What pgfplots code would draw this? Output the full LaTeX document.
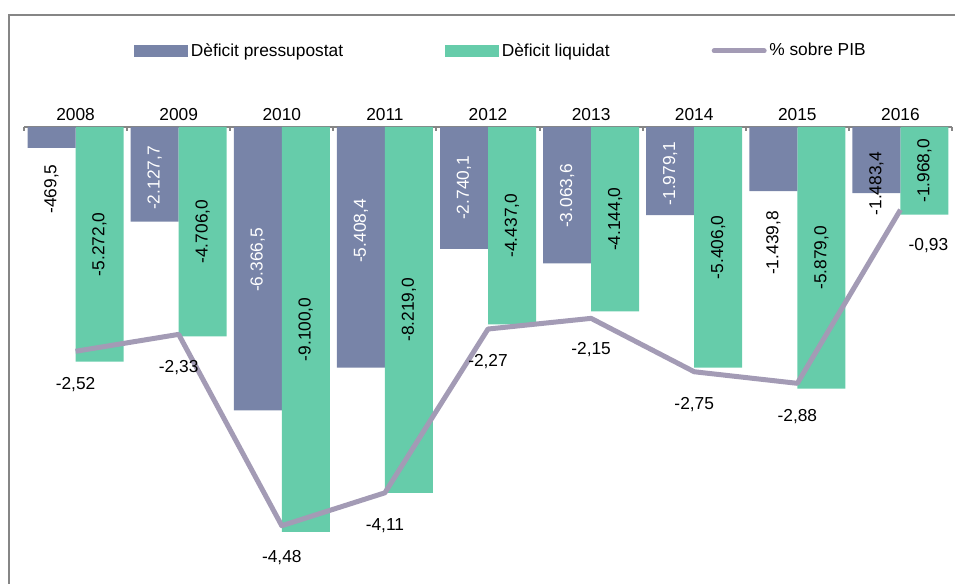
\documentclass[border=0pt]{standalone}
\usepackage{pgfplots}
\pgfplotsset{compat=1.18}
\usepackage{pgfplotstable}
\usepackage{fontspec}
\setmainfont{Liberation Sans}

\definecolor{pres}{HTML}{7884A8}
\definecolor{liq}{HTML}{66CCAA}
\definecolor{pib}{HTML}{A39BB5}
\definecolor{marc}{HTML}{868686}

% x, deficit liquidat, % sobre PIB, dx/dy = desplacament etiqueta PIB (pt)
\pgfplotstableread{
x liq pib dx dy
0 -5272 -2.52 0 -24.75
1 -4706 -2.33 0 -24.75
2 -9100 -4.48 0 -23.5
3 -8219 -4.11 0 -24.75
4 -4437 -2.27 0 -24.75
5 -4144 -2.15 0 -23.5
6 -5406 -2.75 0 -24.75
7 -5879 -2.88 0 -24.75
8 -1968 -0.93 21 -27
}\dades

% deficit pressupostat, bl = centre de l'etiqueta
\pgfplotstableread{
x pres bl
1 -2127.7 -1146
2 -6366.5 -2989
3 -5408.4 -2337
4 -2740.1 -1371
5 -3063.6 -1551
6 -1979.1 -1045
}\presdins
\pgfplotstableread{
x pres bl
0 -469.5 -1393
7 -1439.8 -2607
8 -1483.4 -1270
}\presfora

\begin{document}
\fontsize{13}{15}\selectfont
\begin{tikzpicture}
\useasboundingbox (-18pt,-8.25pt) rectangle (698.25pt,429pt);
\draw[marc, line width=1.5pt] (-11.25pt,-9pt) -- (-11.25pt,417.75pt) -- (699pt,417.75pt);
\begin{axis}[
    width=696pt, height=333.75pt, scale only axis,
    xmin=-0.5, xmax=8.5, ymin=-10000, ymax=0,
    clip=false,
    axis x line*=top, axis y line=none,
    x axis line style={marc, line width=1.5pt},
    xtick={-0.5,0.5,1.5,2.5,3.5,4.5,5.5,6.5,7.5,8.5},
    x tick label as interval,
    xticklabels={2008,2009,2010,2011,2012,2013,2014,2015,2016},
    ytick=\empty,
    tick align=inside,
    major tick length=3pt,
    tick style={marc, line width=1.5pt},
    legend columns=3,
    legend style={at={(0.1185,1.1708)}, anchor=west, draw=none, fill=none,
      inner sep=0pt, /tikz/every even column/.append style={column sep=74.5pt}},
    ]
\addplot[ybar, bar width=36pt, bar shift=-18pt, fill=pres, draw=none,
    legend image code/.code={\fill[pres] (0pt,-4.5pt) rectangle (40.5pt,4.5pt);},
    point meta=rawy,
    nodes near coords={\pgfmathprintnumber[fixed,fixed zerofill,precision=1,use comma,assume math mode=true]{\pgfplotspointmeta}},
    visualization depends on={\thisrow{bl}-\thisrow{pres} \as \dl},
    every node near coord/.append style={xshift=-18pt, yshift={0.033375*\dl}, rotate=90, anchor=center, text=white, inner sep=0pt},
    ] table[x=x, y=pres] {\presdins};
\addplot[ybar, bar width=36pt, bar shift=18pt, fill=liq, draw=none,
    legend image code/.code={\fill[liq] (0pt,-4.5pt) rectangle (40.5pt,4.5pt);},
    point meta=rawy,
    nodes near coords={\pgfmathprintnumber[fixed,fixed zerofill,precision=1,use comma,assume math mode=true]{\pgfplotspointmeta}},
    visualization depends on={\thisrow{liq} \as \gl},
    every node near coord/.append style={xshift=18pt, yshift={-0.0166875*\gl}, rotate=90, anchor=center, text=black, inner sep=0pt},
    ] table[x=x, y=liq] {\dades};
\addlegendimage{legend image code/.code={\draw[pib, line width=3.75pt, line cap=round] (1.875pt,0pt) -- (39.375pt,0pt);}}
\legend{Dèficit pressupostat, Dèficit liquidat, \% sobre PIB}
\addplot[ybar, bar width=36pt, bar shift=-18pt, fill=pres, draw=none, forget plot,
    point meta=rawy,
    nodes near coords={\pgfmathprintnumber[fixed,fixed zerofill,precision=1,use comma,assume math mode=true]{\pgfplotspointmeta}},
    visualization depends on={\thisrow{bl}-\thisrow{pres} \as \dl},
    every node near coord/.append style={xshift=-18pt, yshift={0.033375*\dl}, rotate=90, anchor=center, text=black, inner sep=0pt},
    ] table[x=x, y=pres] {\presfora};
\end{axis}
\begin{axis}[
    width=696pt, height=333.75pt, scale only axis,
    xmin=-0.5, xmax=8.5, ymin=-5, ymax=0,
    hide axis, clip=false,
    ]
\addplot[pib, line width=3.75pt, line join=round, mark=none,
    point meta=rawy,
    nodes near coords={\pgfmathprintnumber[fixed,fixed zerofill,precision=2,use comma,assume math mode=true]{\pgfplotspointmeta}},
    visualization depends on={\thisrow{dx} \as \dxl},
    visualization depends on={\thisrow{dy} \as \dyl},
    every node near coord/.append style={xshift={\dxl}, yshift={\dyl}, anchor=center, text=black},
    ] table[x=x, y=pib] {\dades};
\end{axis}
\end{tikzpicture}
\end{document}
